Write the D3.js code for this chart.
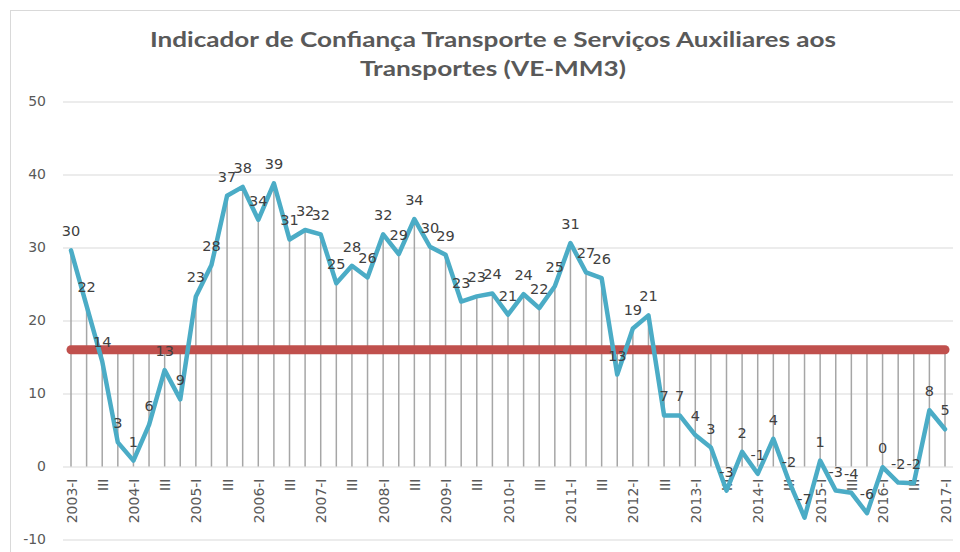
<!DOCTYPE html>
<html>
<head>
<meta charset="utf-8">
<script src="https://cdn.jsdelivr.net/npm/d3@7/dist/d3.min.js"></script>
<style>
  body { margin: 0; background: #fff; }
  svg text { font-family: "DejaVu Sans", Verdana, sans-serif; }
  svg text.title { font-family: Lato, "Open Sans", sans-serif; }
</style>
</head>
<body>
<div id="chart"></div>
<script>
// data (quarterly, 2003-I .. 2017-I)
const years = [2003, 2004, 2005, 2006, 2007, 2008, 2009, 2010, 2011, 2012, 2013, 2014, 2015, 2016, 2017];
const quarterNames = ["I", "II", "III", "IV"];
const values = [
  29.6, 22.0, 14.4, 3.3,
  0.8, 5.7, 13.2, 9.2,
  23.3, 27.6, 37.1, 38.3,
  33.8, 38.8, 31.1, 32.4,
  31.8, 25.1, 27.5, 25.9,
  31.8, 29.1, 33.9, 30.1,
  29.0, 22.6, 23.3, 23.7,
  20.8, 23.6, 21.7, 24.7,
  30.6, 26.6, 25.8, 12.6,
  18.9, 20.7, 7.0, 7.0,
  4.3, 2.6, -3.3, 2.0,
  -1.0, 3.8, -2.0, -7.0,
  0.8, -3.3, -3.6, -6.4,
  -0.1, -2.2, -2.3, 7.7,
  5.1
];
const reference = 16;
const yTicks = [-10, 0, 10, 20, 30, 40, 50];
const titleLines = [
  "Indicador de Confiança Transporte e Serviços Auxiliares aos",
  "Transportes (VE-MM3)"
];

const categories = values.map((v, i) => years[Math.floor(i / 4)] + "-" + quarterNames[i % 4]);

function tickLabel(c, i) {
  if (i % 4 == 0) return c;          // "2003-I"
  if (i % 4 == 2) return "III";
  return "";
}

const W = 960, H = 552;
const plot = { left: 63, right: 953 };

let svg = d3.select("#chart").append("svg")
  .attr("width", W)
  .attr("height", H)
  .style("display", "block");

// chart frame (only top / left edges are visible)
svg.append("rect")
  .attr("x", 10.5).attr("y", 10.5)
  .attr("width", 1000).attr("height", 600)
  .attr("fill", "#fff")
  .attr("stroke", "#d9d9d9");

// title
svg.append("g").selectAll("text")
  .data(titleLines)
  .join("text")
  .attr("class", "title")
  .attr("x", 493)
  .attr("y", (d, i) => 47 + i * 29)
  .attr("text-anchor", "middle")
  .attr("font-weight", "bold")
  .attr("font-size", 21)
  .attr("fill", "#595959")
  .attr("textLength", (d, i) => i == 0 ? 686 : 266)
  .attr("lengthAdjust", "spacingAndGlyphs")
  .text(d => d);

let x = d3.scalePoint()
  .domain(categories)
  .range([71, 945]);

let y = d3.scaleLinear()
  .domain([-10, 50])
  .range([539.5, 101.5]);

// y axis + gridlines
let yAxis = svg.append("g")
  .attr("transform", `translate(${plot.left},0)`)
  .call(d3.axisLeft(y)
    .tickValues(yTicks)
    .tickSize(-(plot.right - plot.left))
    .tickPadding(17)
    .tickFormat(d => String(d)));
yAxis.select(".domain").remove();
yAxis.selectAll(".tick line").attr("stroke", "#d9d9d9").attr("stroke-width", 1);
yAxis.selectAll(".tick text")
  .attr("fill", "#595959")
  .attr("font-size", 14);

// drop lines (from the higher of the two series down to the category axis)
svg.append("g").selectAll("line")
  .data(values)
  .join("line")
  .attr("x1", (d, i) => x(categories[i]))
  .attr("x2", (d, i) => x(categories[i]))
  .attr("y1", d => y(Math.max(d, reference)))
  .attr("y2", y(0))
  .attr("stroke", "#a6a6a6")
  .attr("stroke-width", 1.5);

// x axis labels
let xAxis = svg.append("g")
  .attr("transform", `translate(0,${y(0)})`)
  .call(d3.axisBottom(x).tickSize(0).tickFormat((c, i) => tickLabel(c, i)));
xAxis.select(".domain").remove();
xAxis.selectAll(".tick text")
  .attr("transform", "rotate(-90)")
  .attr("text-anchor", "end")
  .attr("x", -12)
  .attr("y", 0)
  .attr("dy", "0.36em")
  .attr("fill", "#595959")
  .attr("font-size", 14);

// reference line
svg.append("path")
  .datum(categories)
  .attr("d", d3.line().x(c => x(c)).y(() => y(reference)))
  .attr("fill", "none")
  .attr("stroke", "#c0504d")
  .attr("stroke-width", 9)
  .attr("stroke-linecap", "round");

// main series
svg.append("path")
  .datum(values)
  .attr("d", d3.line().x((d, i) => x(categories[i])).y(d => y(d)))
  .attr("fill", "none")
  .attr("stroke", "#4bacc6")
  .attr("stroke-width", 4.5)
  .attr("stroke-linejoin", "round")
  .attr("stroke-linecap", "round");

// data labels
svg.append("g").selectAll("text")
  .data(values)
  .join("text")
  .attr("x", (d, i) => x(categories[i]))
  .attr("y", d => y(d) - 14)
  .attr("text-anchor", "middle")
  .attr("font-size", 14.5)
  .attr("fill", "#404040")
  .text(d => String(Math.round(d)));
</script>
</body>
</html>
